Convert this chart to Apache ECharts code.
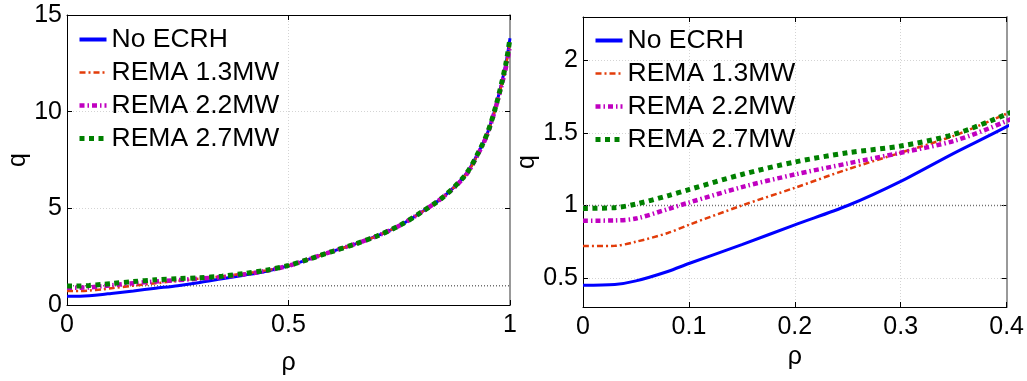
<!DOCTYPE html>
<html><head><meta charset="utf-8">
<script src="https://cdn.jsdelivr.net/npm/echarts@6/dist/echarts.min.js"></script>
<style>html,body{margin:0;padding:0;background:#fff}#c{width:1027px;height:381px}</style>
</head><body><div id="c"></div>
<script>
// normalized radius
const rho = [0, 0.03, 0.05, 0.08, 0.1, 0.15, 0.2, 0.25, 0.3, 0.35, 0.4, 0.45, 0.5, 0.55, 0.6, 0.65, 0.7, 0.75, 0.8, 0.85, 0.9, 0.93, 0.95, 0.97, 0.99, 1.0];
const qNoECRH = [0.45, 0.455, 0.48, 0.545, 0.60, 0.73, 0.867, 1.0, 1.167, 1.36, 1.544, 1.75, 2.03, 2.4, 2.78, 3.15, 3.57, 4.1, 4.8, 5.6, 6.75, 7.95, 8.95, 10.45, 12.4, 13.8];
const qRema13 = [0.72, 0.722, 0.75, 0.81, 0.867, 1.0, 1.122, 1.25, 1.364, 1.48, 1.633, 1.79, 2.04, 2.4, 2.78, 3.15, 3.57, 4.1, 4.8, 5.6, 6.72, 7.9, 8.9, 10.4, 12.3, 13.6];
const qRema22 = [0.895, 0.897, 0.91, 0.975, 1.02, 1.127, 1.214, 1.29, 1.364, 1.445, 1.583, 1.77, 2.03, 2.4, 2.78, 3.15, 3.57, 4.1, 4.8, 5.6, 6.7, 7.9, 8.9, 10.4, 12.2, 13.4];
const qRema27 = [0.98, 0.985, 1.01, 1.067, 1.11, 1.214, 1.30, 1.364, 1.41, 1.49, 1.63, 1.8, 2.05, 2.4, 2.78, 3.15, 3.57, 4.1, 4.8, 5.6, 6.75, 7.95, 8.95, 10.45, 12.4, 13.8];
const seriesNames = ['No ECRH', 'REMA 1.3MW', 'REMA 2.2MW', 'REMA 2.7MW'];
const qOneLine = [[0, 1], [1, 1]];
const leftXTicks = [0, 0.5, 1];
const leftYTicks = [0, 5, 10, 15];
const rightXTicks = [0, 0.1, 0.2, 0.3, 0.4];
const rightYTicks = [0.5, 1, 1.5, 2];

const allQ = [qNoECRH, qRema13, qRema22, qRema27];
const styles = [
  {color: '#0000ff', width: 3, type: 'solid'},
  {color: '#e23c0a', width: 2.5, type: [6, 3, 2, 3]},
  {color: '#c000c0', width: 4.5, type: [5, 3, 1.5, 3]},
  {color: '#008000', width: 5, type: [5, 4.5]}
];
const font = 'Liberation Sans, Arial, sans-serif';
const FS = 25;

function pairs(q) { return rho.map((r, i) => [r, q[i]]); }

const grids = [
  {left: 67, top: 15, width: 443, height: 302},
  {left: 583, top: 17, width: 424, height: 290}
];
const xr = [[0, 1], [0, 0.4]];
const yr = [[0, 15], [0.3, 2.3]];
const xt = [leftXTicks, rightXTicks];
const yt = [leftYTicks, rightYTicks];

const xAxis = [], yAxis = [], series = [];
for (let g = 0; g < 2; g++) {
  const tick = (vals) => ({show: true, inside: true, length: 5, lineStyle: {color: '#000'}, customValues: vals});
  const line = (c, w) => ({show: true, onZero: false, lineStyle: {color: c, width: w}});
  xAxis.push({
    gridIndex: g, type: 'value', position: 'bottom', min: xr[g][0], max: xr[g][1],
    axisLine: line('#000', 1), axisTick: tick(xt[g]),
    axisLabel: {customValues: xt[g], color: '#000', fontFamily: font, fontSize: FS, margin: 8, formatter: v => String(+v.toFixed(2))},
    splitLine: {show: true, lineStyle: {color: '#d4d4d4', type: [1, 2], width: 1}},
    name: 'ρ', nameLocation: 'middle', nameGap: g === 0 ? 46 : 31,
    nameTextStyle: {color: '#000', fontFamily: font, fontSize: FS}
  });
  xAxis.push({
    gridIndex: g, type: 'value', position: 'top', min: xr[g][0], max: xr[g][1],
    axisLine: line('#000', 1), axisTick: tick(xt[g]),
    axisLabel: {show: false}, splitLine: {show: false}
  });
  yAxis.push({
    gridIndex: g, type: 'value', position: 'left', min: yr[g][0], max: yr[g][1],
    axisLine: line('#000', 1), axisTick: tick(yt[g]),
    axisLabel: {customValues: yt[g], color: '#000', fontFamily: font, fontSize: FS, margin: 5, formatter: v => String(+v.toFixed(2))},
    splitLine: {show: true, lineStyle: {color: '#d4d4d4', type: [1, 2], width: 1}},
    name: 'q', nameLocation: 'middle', nameGap: g === 0 ? 33 : 38, nameRotate: 90,
    nameTextStyle: {color: '#000', fontFamily: font, fontSize: FS}
  });
  yAxis.push({
    gridIndex: g, type: 'value', position: 'right', min: yr[g][0], max: yr[g][1],
    axisLine: line('#999', 2), axisTick: tick(yt[g]),
    axisLabel: {show: false}, splitLine: {show: false}
  });
  series.push({
    type: 'line', xAxisIndex: 2 * g, yAxisIndex: 2 * g, data: qOneLine,
    symbol: 'none', silent: true, z: 1,
    lineStyle: {color: '#707070', width: 1.5, type: [1, 2]}
  });
  for (let s = 0; s < 4; s++) {
    series.push({
      type: 'line', name: seriesNames[s], xAxisIndex: 2 * g, yAxisIndex: 2 * g,
      data: pairs(allQ[s]), symbol: 'none', smooth: 0.3, z: 2 + s,
      lineStyle: {color: styles[s].color, width: styles[s].width, type: styles[s].type, cap: 'butt'},
      itemStyle: {color: styles[s].color}
    });
  }
}

const legendData = seriesNames.map((n, s) => ({
  name: n,
  lineStyle: {color: styles[s].color, width: s === 0 ? 4 : styles[s].width, type: styles[s].type, cap: 'butt'},
  itemStyle: {opacity: 0}
}));
const legendBase = {
  orient: 'vertical', itemWidth: 27, itemHeight: 14, itemGap: 6,
  itemStyle: {opacity: 0},
  textStyle: {color: '#000', fontFamily: font, fontSize: 26.5, lineHeight: 26},
  data: legendData, selectedMode: false
};

const chart = echarts.init(document.getElementById('c'), null, {renderer: 'canvas'});
chart.setOption({
  animation: false,
  backgroundColor: '#fff',
  grid: grids,
  xAxis, yAxis, series,
  legend: [
    Object.assign({}, legendBase, {left: 72, top: 21}),
    Object.assign({}, legendBase, {left: 588, top: 22})
  ]
});
</script></body></html>
